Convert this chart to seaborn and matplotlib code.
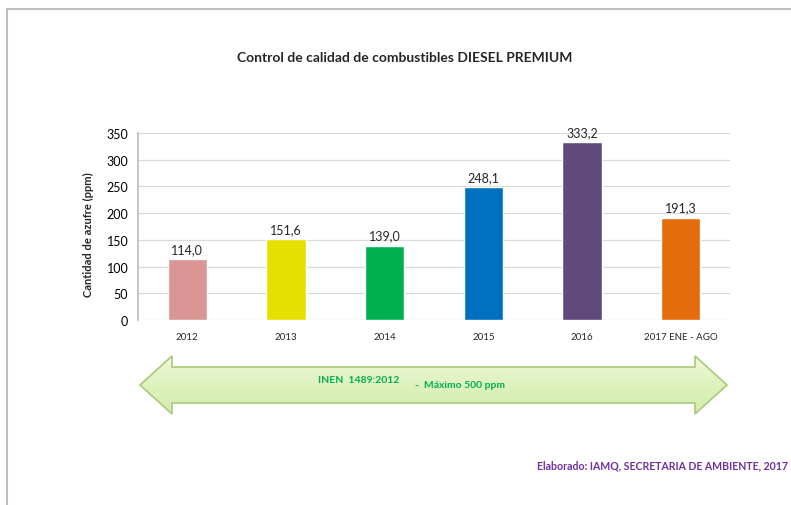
import matplotlib
matplotlib.use("Agg")
import matplotlib.pyplot as plt
from matplotlib.patches import Polygon, Rectangle
from matplotlib.colors import LinearSegmentedColormap
import seaborn as sns
import numpy as np
import pandas as pd

years = ["2012", "2013", "2014", "2015", "2016", "2017 ENE - AGO"]
azufre = [114.0, 151.6, 139.0, 248.1, 333.2, 191.3]
bar_colors = ["#D99694", "#E6E000", "#00B050", "#0070C0", "#604A7B", "#E46C0A"]
y_ticks = [0, 50, 100, 150, 200, 250, 300, 350]

sns.set_theme(style="white")
plt.rcParams["font.family"] = ["Lato", "DejaVu Sans"]

df = pd.DataFrame({"anio": years, "ppm": azufre})

W, H = 791, 506
fig = plt.figure(figsize=(7.91, 5.06), dpi=100)
ax = fig.add_axes([138 / W, 1 - 321 / H, 592 / W, 187 / H])

sns.barplot(data=df, x="anio", y="ppm", hue="anio", palette=bar_colors,
            width=0.4, legend=False, ax=ax, saturation=1)

ax.set_ylim(0, 350)
ax.set_yticks(y_ticks)
ax.yaxis.grid(True, color="#D9D9D9", linewidth=0.9)
ax.set_axisbelow(True)
for s in ["top", "right", "bottom"]:
    ax.spines[s].set_visible(False)
ax.spines["left"].set_color("#BFBFBF")
ax.tick_params(axis="y", labelsize=9, colors="#000000", length=4, color="#BFBFBF", pad=3)
ax.tick_params(axis="x", labelsize=7, length=0, pad=9)
ax.set_xlabel("")
ax.set_ylabel("Cantidad de azufre (ppm)", fontsize=8, fontweight="bold")
ax.yaxis.set_label_coords(-0.074, 0.46)

for cont in ax.containers:
    labels = [f"{v:.1f}".replace(".", ",") for v in cont.datavalues]
    ax.bar_label(cont, labels=labels, fontsize=9, padding=3)

fig.text(405 / W, 1 - 58 / H, "Control de calidad de combustibles DIESEL PREMIUM",
         ha="center", va="center", fontsize=10, fontweight="bold")

# marco exterior
fig.patches.append(Rectangle((7 / W, -0.1), 1.2, 1 - 10 / H + 0.1,
                             transform=fig.transFigure, fill=False,
                             edgecolor="#BFBFBF", linewidth=1.5))

# flecha doble
def fp(x, y):
    return (x / W, 1 - y / H)

pts = [fp(140, 386), fp(172, 357), fp(172, 368), fp(695, 368), fp(695, 357),
       fp(727, 386), fp(695, 415), fp(695, 404), fp(172, 404), fp(172, 415)]
arrow = Polygon(pts, closed=True, transform=fig.transFigure,
                facecolor="none", edgecolor="#A9C97A", linewidth=1.2, zorder=3)
fig.patches.append(arrow)
grad_ax = fig.add_axes([0, 0, 1, 1], zorder=-1)
grad_ax.axis("off")
grad = np.linspace(0, 1, 256).reshape(-1, 1)
cm = LinearSegmentedColormap.from_list("g", ["#F0F9DC", "#DDF2BC", "#D3EDAE"])
im = grad_ax.imshow(grad, cmap=cm, aspect="auto", extent=[0, 1, 1 - 415 / H, 1 - 357 / H],
                    transform=fig.transFigure)
clip = Polygon(pts, closed=True, transform=fig.transFigure, facecolor="none", edgecolor="none")
fig.patches.append(clip)
im.set_clip_path(clip)

fig.text(318 / W, 1 - 381 / H, "INEN  1489:2012", ha="left", va="center",
         fontsize=7.5, fontweight="bold", color="#00B050")
fig.text(415 / W, 1 - 385 / H, "-  Máximo 500 ppm", ha="left", va="center",
         fontsize=7.5, fontweight="bold", color="#00B050")

fig.text(788 / W, 1 - 466 / H, "Elaborado: IAMQ, SECRETARIA DE AMBIENTE, 2017",
         ha="right", va="center", fontsize=7.6, fontweight="bold", color="#7030A0")

fig.savefig("out.png", dpi=100)
